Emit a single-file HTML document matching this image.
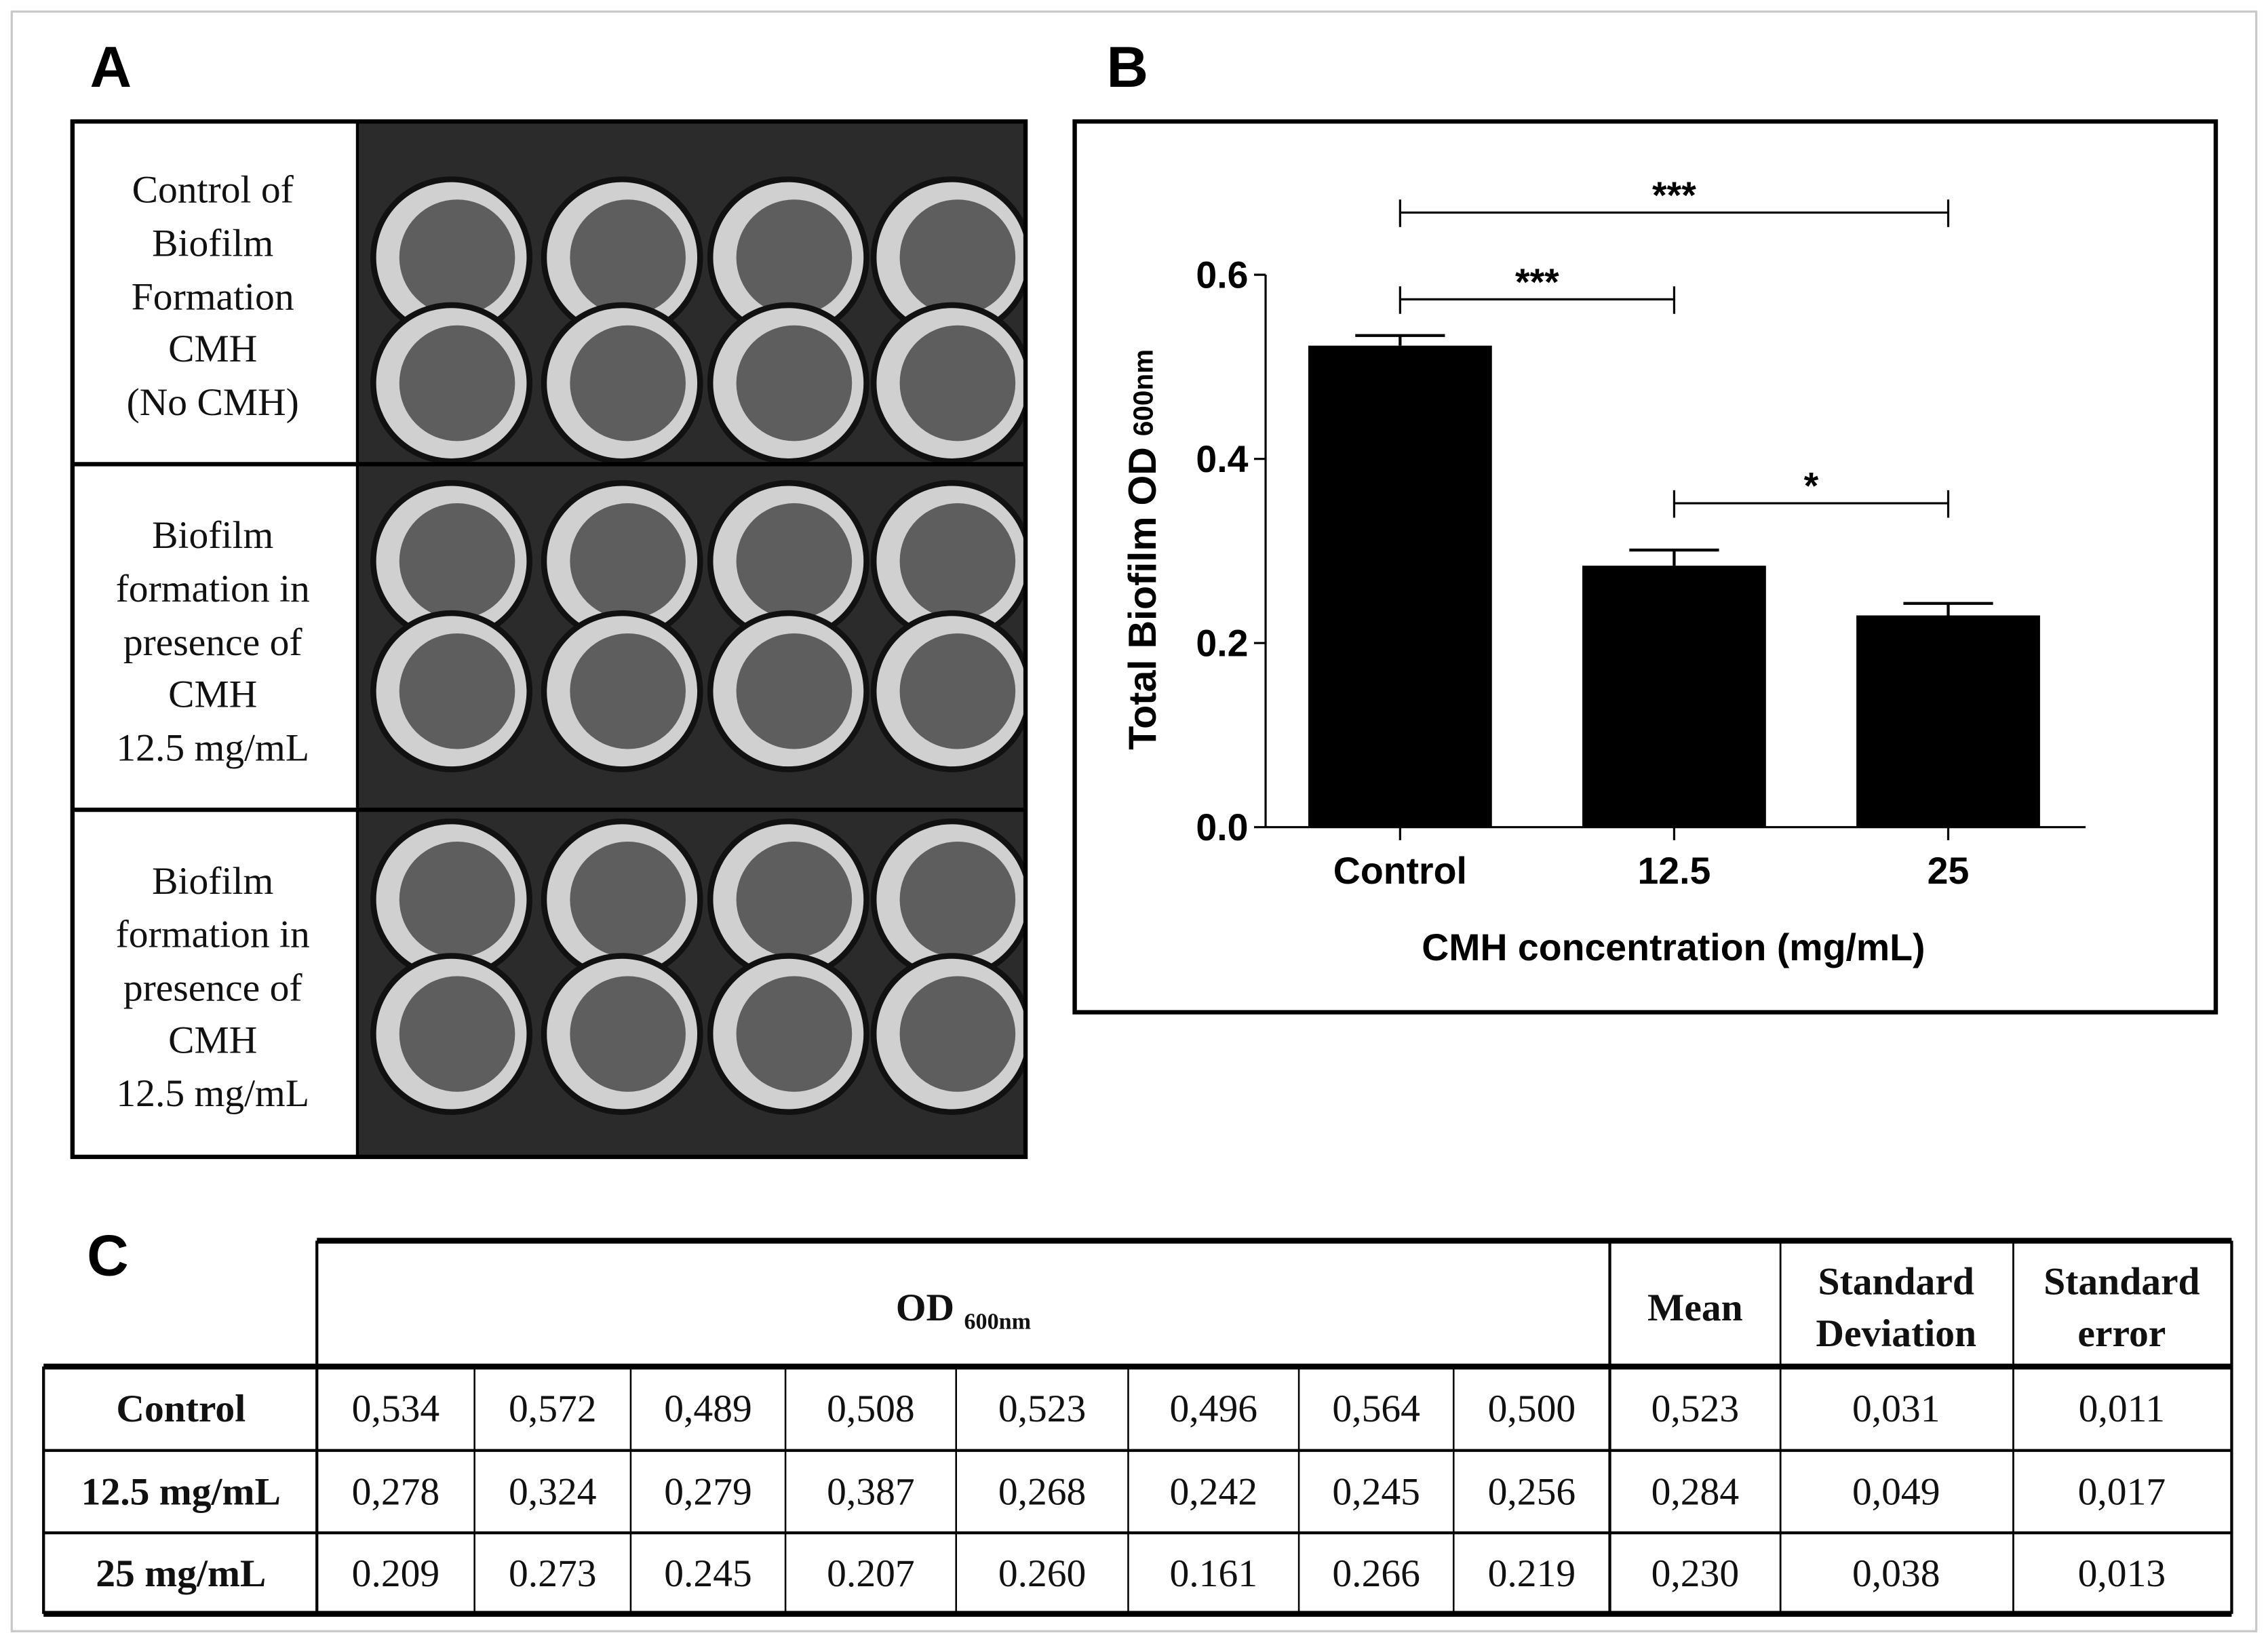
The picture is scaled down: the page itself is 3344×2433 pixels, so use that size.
<!DOCTYPE html>
<html><head><meta charset="utf-8"><style>
html,body{margin:0;padding:0;background:#fff}
svg{display:block}
.tnr{font-family:"Liberation Serif",serif}
.ar{font-family:"Liberation Sans",sans-serif;font-weight:bold}
</style></head><body>
<svg id="fig" width="3344" height="2433" viewBox="0 0 1568 1141" xmlns="http://www.w3.org/2000/svg">
<defs><clipPath id="photoClip"><rect x="247" y="84" width="462" height="716"/></clipPath></defs>
<rect x="8" y="8" width="1552" height="1120" fill="#fff" stroke="#c8c8c8" stroke-width="1.5"/>
<text x="62" y="60" class="ar" font-size="40">A</text>
<text x="765" y="60" class="ar" font-size="40">B</text>
<text x="60" y="882" class="ar" font-size="40">C</text>

<g id="panelA">
<rect x="247" y="84" width="462" height="716" fill="#2b2b2b"/>
<g id="wells" clip-path="url(#photoClip)"></g>
<rect x="50" y="84" width="197" height="716" fill="#fff"/>
<rect x="50" y="84" width="659" height="716" fill="none" stroke="#000" stroke-width="3"/>
<line x1="50" y1="321" x2="709" y2="321" stroke="#000" stroke-width="3"/>
<line x1="50" y1="560" x2="709" y2="560" stroke="#000" stroke-width="3"/>
<line x1="247" y1="84" x2="247" y2="800" stroke="#000" stroke-width="2"/>
<g class="tnr" font-size="27" text-anchor="middle" fill="#111">
<text><tspan x="147" y="140">Control of</tspan><tspan x="147" y="177">Biofilm</tspan><tspan x="147" y="214">Formation</tspan><tspan x="147" y="250">CMH</tspan><tspan x="147" y="287">(No CMH)</tspan></text>
<text><tspan x="147" y="379">Biofilm</tspan><tspan x="147" y="416">formation in</tspan><tspan x="147" y="453">presence of</tspan><tspan x="147" y="489">CMH</tspan><tspan x="147" y="526">12.5 mg/mL</tspan></text>
<text><tspan x="147" y="618">Biofilm</tspan><tspan x="147" y="655">formation in</tspan><tspan x="147" y="692">presence of</tspan><tspan x="147" y="728">CMH</tspan><tspan x="147" y="765">12.5 mg/mL</tspan></text>
</g>
</g>

<g id="panelB">
<rect x="743" y="84" width="789" height="616" fill="#fff" stroke="#000" stroke-width="3"/>
<g id="chart"></g>
<text class="ar" font-size="27" text-anchor="middle" transform="translate(799,380) rotate(-90)">Total Biofilm OD <tspan font-size="19" dy="-2">600nm</tspan></text>
<text class="ar" font-size="26" x="1157" y="664" text-anchor="middle">CMH concentration (mg/mL)</text>
</g>

<g id="table"></g>
</svg>
<script>
var NS="http://www.w3.org/2000/svg";
function mk(tag,attrs,parent){var e=document.createElementNS(NS,tag);for(var k in attrs)e.setAttribute(k,attrs[k]);parent.appendChild(e);return e;}

// chart data
var categories=["Control","12.5","25"];
var means=[0.523,0.284,0.230];
var sems=[0.011,0.017,0.013];
var yTicks=[0.0,0.2,0.4,0.6];
var yTickLabels=["0.0","0.2","0.4","0.6"];
var sigPairs=[[0,2],[0,1],[1,2]];
var sigLabels=["***","***","*"];

// wells
var wg=document.getElementById('wells');
var wellCols=[312,430,545,658], wellRows=[178,265,388,478,622,715];
wellRows.forEach(function(cy){wellCols.forEach(function(cx){
  var c=mk('circle',{cx:cx,cy:cy,r:54,fill:'#d0d0d0',stroke:'#111','stroke-width':4},wg);
  
  
  mk('circle',{cx:cx+4,cy:cy,r:40,fill:'#5e5e5e'},wg);
});});

var g=document.getElementById('chart');
var x0=875,x1=1442,yBase=572,yTop=190;
function yS(v){return yBase-(v/0.6)*(yBase-yTop);}
var cx=[968,1158,1347];
function xS(i){return cx[0]+i*((cx[2]-cx[0])/(categories.length-1));}
var bw=127;
mk('line',{x1:x0,y1:yTop,x2:x0,y2:yBase,stroke:'#000','stroke-width':1.5},g);
mk('line',{x1:x0,y1:yBase,x2:x1,y2:yBase,stroke:'#000','stroke-width':1.5},g);
yTicks.forEach(function(v,i){
  mk('line',{x1:x0-8,y1:yS(v),x2:x0,y2:yS(v),stroke:'#000','stroke-width':1.5},g);
  var t=mk('text',{x:x0-12,y:yS(v)+9,'text-anchor':'end','class':'ar','font-size':26},g);
  t.textContent=yTickLabels[i];
  
  
});
categories.forEach(function(c,i){
  var x=xS(i);
  var r=mk('rect',{x:x-bw/2,y:yS(means[i]),width:bw,height:yBase-yS(means[i]),fill:'#000'},g);
  
  
  var ye=yS(means[i]+sems[i]);
  var eb=mk('path',{d:'M'+x+' '+yS(means[i])+'V'+ye+'M'+(x-31)+' '+ye+'H'+(x+31),stroke:'#000','stroke-width':2,fill:'none'},g);
  
  
  mk('line',{x1:x,y1:yBase,x2:x,y2:yBase+9,stroke:'#000','stroke-width':1.5},g);
  var t=mk('text',{x:x,y:yBase+39,'text-anchor':'middle','class':'ar','font-size':26},g);
  t.textContent=c;
  
  
});
var sigY=[147,207,348];
sigPairs.forEach(function(p,k){
  var a=xS(p[0]),b=xS(p[1]),y=sigY[k];
  var s=mk('path',{d:'M'+a+' '+y+'H'+b+'M'+a+' '+(y-9)+'V'+(y+10)+'M'+b+' '+(y-9)+'V'+(y+10),stroke:'#000','stroke-width':1.5,fill:'none'},g);
  
  
  var t=mk('text',{x:(a+b)/2,y:y-3,'text-anchor':'middle','class':'ar','font-size':26},g);
  t.textContent=sigLabels[k];
  
  
});

// table
var rowNames=["Control","12.5 mg/mL","25 mg/mL"];
var odValues=[["0,534","0,572","0,489","0,508","0,523","0,496","0,564","0,500"],
["0,278","0,324","0,279","0,387","0,268","0,242","0,245","0,256"],
["0.209","0.273","0.245","0.207","0.260","0.161","0.266","0.219"]];
var meanVals=["0,523","0,284","0,230"];
var sdVals=["0,031","0,049","0,038"];
var seVals=["0,011","0,017","0,013"];
var tg=document.getElementById('table');
var colX=[30,219,328,436,543,661,780,898,1005,1113,1231,1392,1543];
var rowY=[858,945,1003,1060,1116];
function txt(x,y,s,bold,size,name){var t=mk('text',{x:x,y:y,'text-anchor':'middle','class':'tnr','font-size':size||27,'font-weight':bold?'bold':'normal',fill:'#111'},tg);t.textContent=s;return t;}
mk('line',{x1:219,y1:858,x2:1543,y2:858,stroke:'#000','stroke-width':4},tg);
mk('line',{x1:30,y1:945,x2:1543,y2:945,stroke:'#000','stroke-width':4},tg);
mk('line',{x1:30,y1:1003,x2:1543,y2:1003,stroke:'#000','stroke-width':2},tg);
mk('line',{x1:30,y1:1060,x2:1543,y2:1060,stroke:'#000','stroke-width':2},tg);
mk('line',{x1:30,y1:1116,x2:1543,y2:1116,stroke:'#000','stroke-width':4},tg);
mk('line',{x1:30,y1:945,x2:30,y2:1116,stroke:'#000','stroke-width':2},tg);
mk('line',{x1:1543,y1:858,x2:1543,y2:1116,stroke:'#000','stroke-width':2},tg);
[219,1113,1231,1392].forEach(function(x){mk('line',{x1:x,y1:858,x2:x,y2:1116,stroke:'#000','stroke-width':(x==1113||x==219)?2:1.3},tg);});
[328,436,543,661,780,898,1005].forEach(function(x){mk('line',{x1:x,y1:945,x2:x,y2:1116,stroke:'#000','stroke-width':1.2},tg);});
var od=txt(666,913,'OD ',true,27,'od-header');
var sp=document.createElementNS(NS,'tspan');sp.setAttribute('font-size','16');sp.setAttribute('dy','6');sp.textContent='600nm';od.appendChild(sp);
txt(1172,913,'Mean',true,27,'mean-header');
txt(1311,895,'Standard',true,27,'sd-header');txt(1311,931,'Deviation',true,27,'sd-header-2');
txt(1467,895,'Standard',true,27,'se-header');txt(1467,931,'error',true,27,'se-header-2');
for(var r=0;r<3;r++){
  var cy=(rowY[r+1]+rowY[r+2])/2+9;
  txt(125,cy,rowNames[r],true,27,'row-name');
  for(var c=0;c<8;c++){txt((colX[c+1]+colX[c+2])/2,cy,odValues[r][c],false,27,'od-value');}
  txt(1172,cy,meanVals[r],false,27,'mean-value');
  txt(1311,cy,sdVals[r],false,27,'sd-value');
  txt(1467,cy,seVals[r],false,27,'se-value');
}
</script>
</body></html>
